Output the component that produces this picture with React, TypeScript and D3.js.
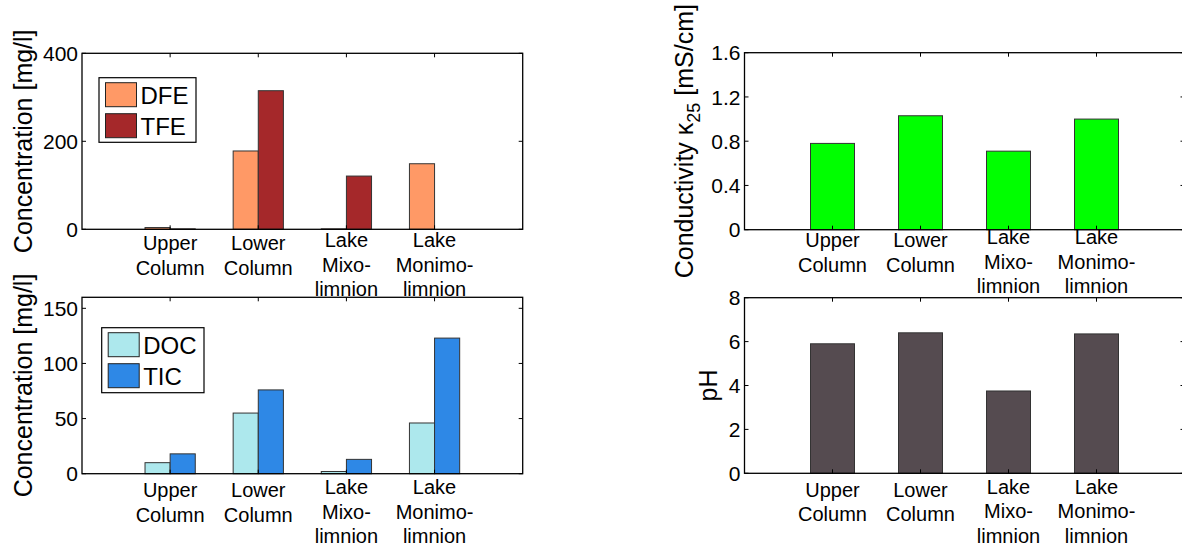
import React from "react";
import * as d3 from "d3";

const categories = [
  ["Upper", "Column"],
  ["Lower", "Column"],
  ["Lake", "Mixo-", "limnion"],
  ["Lake", "Monimo-", "limnion"],
];

const dfe = [4, 178, 1, 149];
const tfe = [1, 315, 121, 0];
const doc = [10, 55, 2, 46];
const tic = [18, 76, 13, 123];
const conductivity = [0.78, 1.03, 0.71, 1.0];
const ph = [5.9, 6.4, 3.75, 6.35];

const ironTicks = [0, 200, 400];
const carbonTicks = [0, 50, 100, 150];
const condTicks = [0, 0.4, 0.8, 1.2, 1.6];
const phTicks = [0, 2, 4, 6, 8];

const FONT = "Liberation Sans, Arial, Helvetica, sans-serif";

type Series = { name: string; values: number[]; color: string };

type PanelProps = {
  left: number;
  right: number;
  top: number;
  bottom: number;
  yMax: number;
  ticks: number[];
  tickFmt?: (v: number) => string;
  series: Series[];
  barWidth: number;
  labelOffset: number;
  legend?: { x: number; y: number; w: number; h: number };
  yLabel: React.ReactNode;
  yLabelX: number;
};

function Panel(p: PanelProps) {
  const x = d3.scaleLinear().domain([0, 5]).range([p.left, p.right]);
  const y = d3.scaleLinear().domain([0, p.yMax]).range([p.bottom, p.top]);
  const unit = x(1) - x(0);
  const n = p.series.length;
  const bw = p.barWidth * unit;
  const fmt = p.tickFmt || ((v: number) => String(v));
  const tl = 4;

  return (
    <g>
      {p.series.map((s, si) =>
        s.values.map((v, i) => {
          const cx = x(i + 1) + (si - (n - 1) / 2) * bw;
          return (
            <rect
              key={s.name + i}
              x={cx - bw / 2}
              y={y(v)}
              width={bw}
              height={p.bottom - y(v)}
              fill={s.color}
              stroke="#333"
              strokeWidth={1}
            />
          );
        })
      )}
      {/* box */}
      <rect
        x={p.left}
        y={p.top}
        width={p.right - p.left}
        height={p.bottom - p.top}
        fill="none"
        stroke="#000"
        strokeWidth={1.3}
      />
      {/* y ticks */}
      {p.ticks.map((t) => (
        <g key={"y" + t}>
          <line x1={p.left} x2={p.left + tl} y1={y(t)} y2={y(t)} stroke="#000" />
          <line x1={p.right} x2={p.right - tl} y1={y(t)} y2={y(t)} stroke="#000" />
          <text
            x={p.left - 4}
            y={y(t)}
            dy="0.36em"
            textAnchor="end"
            fontSize={21}
            fontFamily={FONT}
          >
            {fmt(t)}
          </text>
        </g>
      ))}
      {/* x ticks and labels */}
      {categories.map((lines, i) => (
        <g key={"x" + i}>
          <line x1={x(i + 1)} x2={x(i + 1)} y1={p.bottom} y2={p.bottom - tl} stroke="#000" />
          <line x1={x(i + 1)} x2={x(i + 1)} y1={p.top} y2={p.top + tl} stroke="#000" />
          <text
            x={x(i + 1)}
            y={p.bottom + p.labelOffset - (lines.length > 2 ? 3 : 0)}
            textAnchor="middle"
            fontSize={20}
            fontFamily={FONT}
          >
            {lines.map((l, li) => (
              <tspan key={li} x={x(i + 1)} dy={li === 0 ? 0 : 24.5}>
                {l}
              </tspan>
            ))}
          </text>
        </g>
      ))}
      {/* y label */}
      <text
        transform={`translate(${p.yLabelX},${(p.top + p.bottom) / 2}) rotate(-90)`}
        textAnchor="middle"
        fontSize={25}
        fontFamily={FONT}
      >
        {p.yLabel}
      </text>
      {p.legend && (
        <g transform={`translate(${p.legend.x},${p.legend.y})`}>
          <rect
            width={p.legend.w}
            height={p.legend.h}
            fill="#fff"
            stroke="#000"
            strokeWidth={1.2}
          />
          {p.series.map((s, si) => (
            <g key={s.name} transform={`translate(6.5,${5 + si * 31})`}>
              <rect width={31} height={24} fill={s.color} stroke="#222" strokeWidth={1} />
              <text x={35} y={21.5} fontSize={24} fontFamily={FONT}>
                {s.name}
              </text>
            </g>
          ))}
        </g>
      )}
    </g>
  );
}

export default function App() {
  return (
    <svg
      width={1182}
      height={554}
      viewBox="0 0 1182 554"
      style={{ position: "absolute", left: 0, top: 0, background: "#fff" }}
    >
      <rect width={1182} height={554} fill="#fff" />
      <Panel
        left={82}
        right={522.7}
        top={53.3}
        bottom={229.3}
        yMax={400}
        ticks={ironTicks}
        series={[
          { name: "DFE", values: dfe, color: "#ff9966" },
          { name: "TFE", values: tfe, color: "#a5282a" },
        ]}
        barWidth={0.285}
        labelOffset={21}
        legend={{ x: 99, y: 77.7, w: 97, h: 64.6 }}
        yLabel="Concentration [mg/l]"
        yLabelX={32}
      />
      <Panel
        left={82}
        right={522.7}
        top={297.3}
        bottom={473.7}
        yMax={160}
        ticks={carbonTicks}
        series={[
          { name: "DOC", values: doc, color: "#ade8ed" },
          { name: "TIC", values: tic, color: "#2e88e6" },
        ]}
        barWidth={0.285}
        labelOffset={23.5}
        legend={{ x: 101.7, y: 327.7, w: 102.3, h: 65 }}
        yLabel="Concentration [mg/l]"
        yLabelX={32}
      />
      <Panel
        left={744.5}
        right={1184.5}
        top={52.7}
        bottom={229.7}
        yMax={1.6}
        ticks={condTicks}
        tickFmt={(v) => (v === 0 ? "0" : d3.format(".1f")(v))}
        series={[{ name: "Conductivity", values: conductivity, color: "#00ff00" }]}
        barWidth={0.5}
        labelOffset={17.5}
        yLabel={
          <>
            Conductivity κ
            <tspan dy={7} fontSize={18}>
              25
            </tspan>
            <tspan dy={-7}> [mS/cm]</tspan>
          </>
        }
        yLabelX={693}
      />
      <Panel
        left={744.5}
        right={1184.5}
        top={297.7}
        bottom={473.3}
        yMax={8}
        ticks={phTicks}
        series={[{ name: "pH", values: ph, color: "#554b50" }]}
        barWidth={0.5}
        labelOffset={23.4}
        yLabel="pH"
        yLabelX={717}
      />
    </svg>
  );
}
